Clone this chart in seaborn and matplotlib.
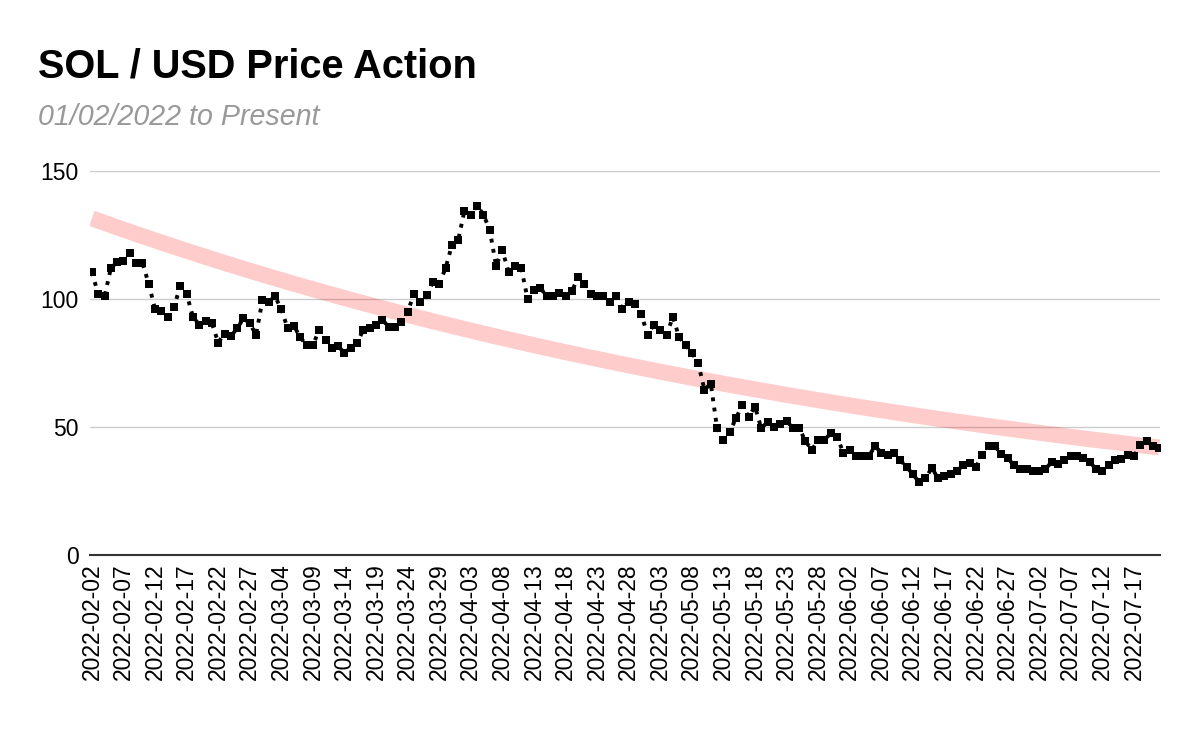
import matplotlib
matplotlib.use("Agg")
import matplotlib.pyplot as plt
import pandas as pd
import seaborn as sns
import numpy as np

# daily SOL close, starting 2022-02-02
start_date = "2022-02-02"
prices = [
    110.5, 102, 101, 112, 114.5, 115, 118, 114, 114, 106,
    96, 95.5, 93, 97, 105, 102, 93, 90, 91.5, 90.5,
    83, 86.5, 85.5, 88.5, 92.5, 90.5, 86, 99.5, 99, 101,
    96, 88.5, 89.5, 85, 82, 82, 88, 84, 81, 81.5,
    79, 81, 83, 88, 88.5, 90, 92, 89, 89, 91,
    95, 102, 99, 101.5, 106.5, 106, 112, 121, 123, 134.5,
    133, 136.5, 133, 127, 113, 119, 110.5, 113, 112, 100,
    103.5, 104.5, 101, 101, 102.5, 101, 103, 108.5, 106, 102,
    101, 101, 99, 101, 96, 99, 98, 94, 86, 90,
    88, 86, 93, 85, 82, 79, 75, 64.5, 67, 49.5,
    45, 48, 53.5, 58.5, 54, 58, 49.5, 52, 50, 51,
    52.5, 49.5, 49.5, 44.5, 41, 45, 45, 47.5, 46, 40,
    41, 38.5, 38.5, 38.5, 42.5, 40, 39, 40, 37, 34.5,
    31.5, 28.5, 30, 34, 30, 31, 31.5, 33, 35, 36,
    34.5, 39, 42.5, 42.5, 39.5, 38, 35, 33.5, 33.5, 33,
    33, 33.5, 36.5, 35.5, 37, 38.5, 38.5, 38, 36.5, 33.5,
    33, 35, 37, 37.5, 39, 38.5, 43, 44.5, 42.5, 42,
]
# exponential trendline ends, as drawn in the reference
trend_first = 131.5
trend_last = 42.0
title = "SOL / USD Price Action"
subtitle = "01/02/2022 to Present"
y_ticks = [0, 50, 100, 150]

dates = pd.date_range(start_date, periods=len(prices), freq="D")
df = pd.DataFrame({"day": np.arange(len(prices)), "price": prices})

# exponential curve through the two trend ends
rate = np.log(trend_last / trend_first) / df["day"].iloc[-1]
trend = trend_first * np.exp(rate * df["day"])

sns.set_style("white")
plt.rcParams["font.family"] = ["Liberation Sans", "DejaVu Sans"]

fig = plt.figure(figsize=(12, 7.42), dpi=100)
ax = fig.add_axes([0.075, 0.252, 0.892, 0.5175])

ax.plot(df["day"], trend, color="red", alpha=0.2, linewidth=11.5,
        solid_capstyle="butt", zorder=2)
sns.lineplot(data=df, x="day", y="price", ax=ax, color="black",
             linestyle=":", linewidth=2.8, marker="s", markersize=5.3,
             markeredgewidth=0, zorder=3)

ax.set_ylim(0, 150)
ax.set_xlim(-0.3, len(prices) - 0.8)
ax.set_yticks(y_ticks)
ax.set_yticklabels([str(v) for v in y_ticks], fontsize=16.5, color="black")
tick_pos = list(range(0, len(prices), 5))
ax.set_xticks(tick_pos)
ax.set_xticklabels([dates[i].strftime("%Y-%m-%d") for i in tick_pos],
                   rotation=90, fontsize=16.5, color="black")
ax.tick_params(axis="both", length=0, pad=8)
ax.tick_params(axis="x", pad=6)
ax.set_xlabel("")
ax.set_ylabel("")

ax.grid(axis="y", color="#cccccc", linewidth=1)
ax.set_axisbelow(True)
for side in ["left", "right", "top"]:
    ax.spines[side].set_visible(False)
ax.spines["bottom"].set_color("#333333")
ax.spines["bottom"].set_linewidth(1.5)
ax.spines["bottom"].set_zorder(4)

fig.text(0.032, 0.896, title, fontsize=28.6, fontweight="bold",
         color="black", va="baseline")
fig.text(0.032, 0.8315, subtitle, fontsize=20.6, fontstyle="italic",
         color="#999999", va="baseline")

plt.savefig("out.png", dpi=100)
plt.close()
